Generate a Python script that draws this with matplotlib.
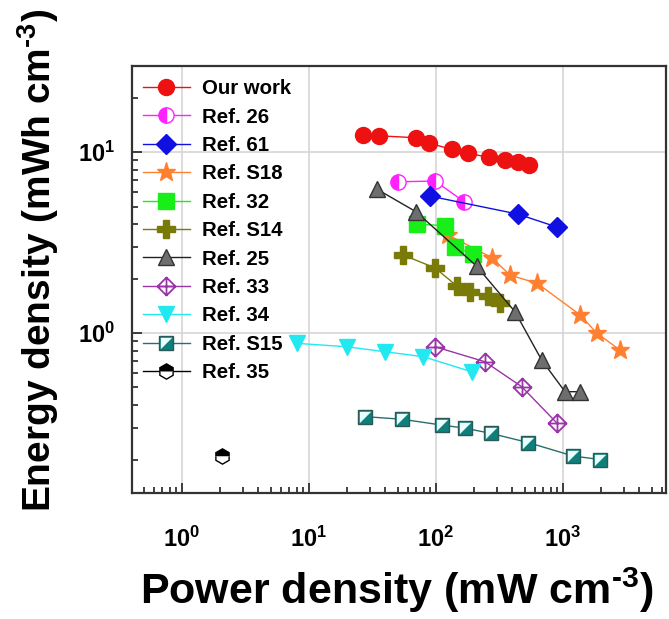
import numpy as np
import matplotlib
matplotlib.use("Agg")
import matplotlib.pyplot as plt
from matplotlib.path import Path
from matplotlib.legend_handler import HandlerTuple

plt.rcParams['font.family'] = ['Liberation Sans', 'DejaVu Sans']
plt.rcParams['font.weight'] = 'bold'
plt.rcParams['mathtext.fontset'] = 'custom'
plt.rcParams['mathtext.rm'] = 'Liberation Sans'
plt.rcParams['mathtext.bf'] = 'Liberation Sans:bold'

# power density (mW cm-3) vs energy density (mWh cm-3)
our_p = [26.5, 35.8, 69.2, 88.1, 133, 178, 263, 349, 442, 540]
our_e = [12.5, 12.3, 12.0, 11.2, 10.35, 9.84, 9.35, 9.03, 8.81, 8.47]
r26_p = [49.9, 98.2, 167]
r26_e = [6.85, 6.92, 5.31]
r61_p = [89.7, 442, 897]
r61_e = [5.71, 4.54, 3.85]
s18_p = [125, 275, 383, 628, 1362, 1841, 2812]
s18_e = [3.48, 2.61, 2.09, 1.88, 1.26, 1.0, 0.805]
r32_p = [70.5, 118, 141, 195]
r32_e = [4.0, 3.92, 3.0, 2.73]
s14_p = [55.0, 98.2, 146, 185, 257, 319]
s14_e = [2.70, 2.29, 1.82, 1.69, 1.60, 1.46]
r25_p = [34.5, 69.6, 209, 419, 679, 1037, 1362]
r25_e = [6.22, 4.68, 2.34, 1.31, 0.709, 0.474, 0.474]
r33_p = [98.2, 243, 473, 892]
r33_e = [0.840, 0.694, 0.505, 0.319]
r34_p = [8.0, 19.8, 39.7, 79.4, 191]
r34_e = [0.877, 0.840, 0.788, 0.740, 0.611]
s15_p = [27.6, 53.7, 111, 169, 270, 533, 1205, 1955]
s15_e = [0.345, 0.334, 0.310, 0.298, 0.279, 0.248, 0.209, 0.200]
r35_p = [2.05]
r35_e = [0.209]

# diamond with a cross inside
diamond_plus = Path(
    [(0, 1), (1, 0), (0, -1), (-1, 0), (0, 1), (0, 1), (0, -1), (-1, 0), (1, 0)],
    [Path.MOVETO, Path.LINETO, Path.LINETO, Path.LINETO, Path.CLOSEPOLY,
     Path.MOVETO, Path.LINETO, Path.MOVETO, Path.LINETO])
# upper-left half of a square
corner_tri = Path([(-1, 1), (1, 1), (-1, -1), (-1, 1)],
                  [Path.MOVETO, Path.LINETO, Path.LINETO, Path.CLOSEPOLY])

fig = plt.figure(figsize=(6.69, 6.19), dpi=100)
ax = fig.add_axes([132 / 669, 1 - 493 / 619, 534 / 669, 427 / 619])

lw = 1.0
handles, labels = [], []

h, = ax.plot(our_p, our_e, '-o', color='#ee1111', ms=11.5, mec='#ee1111', lw=lw)
handles.append(h); labels.append('Our work')
h, = ax.plot(r26_p, r26_e, '-o', color='#ff22ff', ms=11, mfc='#ff22ff', mfcalt='white',
             fillstyle='left', mec='#ff22ff', mew=1.0, lw=lw)
handles.append(h); labels.append('Ref. 26')
h, = ax.plot(r61_p, r61_e, '-D', color='#1010e0', ms=10, lw=lw)
handles.append(h); labels.append('Ref. 61')
h, = ax.plot(s18_p, s18_e, '-*', color='#ff8030', ms=14, lw=lw)
handles.append(h); labels.append('Ref. S18')
h, = ax.plot(r32_p, r32_e, '-s', color='#18ee18', ms=11, lw=lw)
handles.append(h); labels.append('Ref. 32')
h, = ax.plot(s14_p, s14_e, '-P', color='#7a7a08', ms=13.5, lw=lw)
handles.append(h); labels.append('Ref. S14')
h, = ax.plot(r25_p, r25_e, '-^', color='#222222', mfc='#6e6e6e', mec='#333333',
             ms=11, lw=lw)
handles.append(h); labels.append('Ref. 25')
h, = ax.plot(r33_p, r33_e, '-', color='#9a35a8', marker=diamond_plus, mfc='none',
             mec='#9a35a8', mew=1.3, ms=13, lw=lw)
handles.append(h); labels.append('Ref. 33')
h, = ax.plot(r34_p, r34_e, '-v', color='#22e8f0', ms=11, lw=lw)
handles.append(h); labels.append('Ref. 34')
h1, = ax.plot(s15_p, s15_e, '-s', color='#2a6e6a', mfc='#0e7f7a', mec='#2a5a58',
              ms=10, mew=1.0, lw=lw)
h2, = ax.plot(s15_p, s15_e, ls='none', marker=corner_tri, mfc='#e8ffff', mec='none',
              ms=8.2)
handles.append((h1, h2)); labels.append('Ref. S15')
h, = ax.plot(r35_p, r35_e, ls='-', marker='h', color='black', mfc='black',
             mfcalt='white', fillstyle='top', mec='black', ms=11, lw=lw)
handles.append(h); labels.append('Ref. 35')

ax.set_xscale('log')
ax.set_yscale('log')
ax.set_xlim(0.404, 6470)
ax.set_ylim(0.1306, 29.9)

ax.set_xticks([1, 10, 100, 1000])
ax.set_xticklabels([r'$\mathbf{10^{%d}}$' % i for i in range(4)])
ax.set_yticks([1, 10])
ax.set_yticklabels([r'$\mathbf{10^{0}}$', r'$\mathbf{10^{1}}$'])
ax.tick_params(which='both', direction='in', top=False, right=False,
               width=1.2, color='#222222')
ax.tick_params(which='major', length=7, labelsize=17)
ax.tick_params(which='minor', length=4)
ax.tick_params(axis='x', which='major', pad=24)
ax.tick_params(axis='y', which='major', pad=12)

ax.grid(True, which='major', color='#d6d6d6', lw=1.2)
ax.set_axisbelow(True)
for sp in ax.spines.values():
    sp.set_linewidth(1.6)
    sp.set_color('#333333')

ax.legend(handles, labels, loc='upper left', bbox_to_anchor=(11 / 534, 0.969),
          frameon=False, fontsize=14.7, borderpad=0, borderaxespad=0,
          handlelength=2.3, handletextpad=0.6, labelspacing=0.46, numpoints=1,
          handler_map={tuple: HandlerTuple(ndivide=1)})

fig.text(397 / 669, 1 - 590 / 619, r'Power density (mW cm$\mathrm{^{\text{-3}}}$)',
         ha='center', va='center', fontsize=31, fontweight='bold')
fig.text(38 / 669, 1 - 260 / 619, r'Energy density (mWh cm$\mathrm{^{\text{-3}}}$)',
         ha='center', va='center', rotation=90, fontsize=28, fontweight='bold')

fig.savefig('out.png', dpi=100)
